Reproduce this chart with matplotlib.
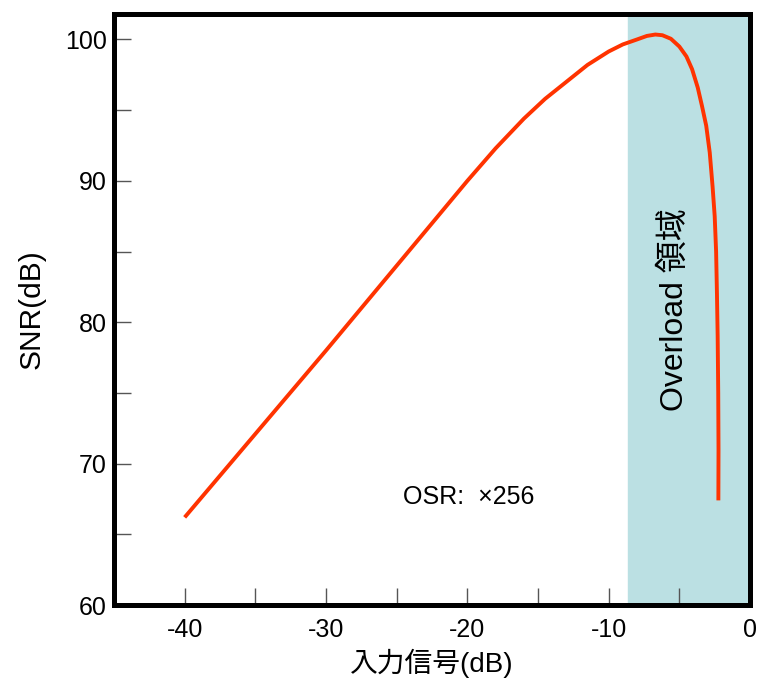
import matplotlib.pyplot as plt

plt.rcParams['font.family'] = ['Liberation Sans', 'Noto Sans CJK JP', 'DejaVu Sans']
plt.rcParams['axes.unicode_minus'] = False

# SNR curve
input_db = [-40.0, -35.0, -30.0, -25.0, -20.0, -18.0, -16.0, -14.5, -13.0, -11.5,
            -10.0, -9.0, -8.0, -7.3, -6.7, -6.2, -5.6, -5.0, -4.5, -4.1,
            -3.7, -3.4, -3.1, -2.85, -2.65, -2.5, -2.4, -2.34, -2.29, -2.25,
            -2.23, -2.24]
snr_db = [66.2, 72.1, 78.0, 84.0, 90.0, 92.3, 94.4, 95.8, 97.0, 98.2,
          99.15, 99.65, 100.0, 100.25, 100.35, 100.3, 100.05, 99.5, 98.8, 97.9,
          96.6, 95.3, 93.9, 92.0, 89.6, 87.5, 85.0, 82.0, 79.0, 75.0,
          71.0, 67.4]

overload_start = -8.6
x_ticks = [-45, -40, -35, -30, -25, -20, -15, -10, -5, 0]
x_labels = ['', '-40', '', '-30', '', '-20', '', '-10', '', '0']
y_ticks = [60, 65, 70, 75, 80, 85, 90, 95, 100]
y_labels = ['60', '', '70', '', '80', '', '90', '', '100']

fig = plt.figure(figsize=(7.63, 6.81), dpi=100)
ax = fig.add_axes([0.1494, 0.1116, 0.8336, 0.8678])

ax.axvspan(overload_start, 0, color='#bbe0e3', zorder=0)
ax.plot(input_db, snr_db, color='#ff3300', linewidth=2.8,
        solid_capstyle='butt', solid_joinstyle='round', zorder=3)

ax.set_xlim(-45, 0)
ax.set_ylim(60, 101.8)

ax.set_xticks(x_ticks)
ax.set_xticklabels(x_labels)
ax.set_yticks(y_ticks)
ax.set_yticklabels(y_labels)
ax.tick_params(direction='in', length=12.5, width=1, color='#555555', labelsize=18)
ax.tick_params(axis='x', pad=9)
ax.tick_params(axis='y', pad=5)

for side in ['left', 'right', 'top', 'bottom']:
    ax.spines[side].set_linewidth(3.6)
    ax.spines[side].set_zorder(5)

ax.set_ylabel('SNR(dB)', fontsize=21.5, labelpad=14)
ax.set_xlabel('入力信号(dB)', fontsize=20, labelpad=5)

ax.text(-19.9, 67.65, 'OSR:  \u00d7256', fontsize=18, ha='center', va='center')
ax.text(-5.3, 80.9, 'Overload 領域', fontsize=23, rotation=90, ha='center', va='center')

plt.savefig('out.png', dpi=100)
